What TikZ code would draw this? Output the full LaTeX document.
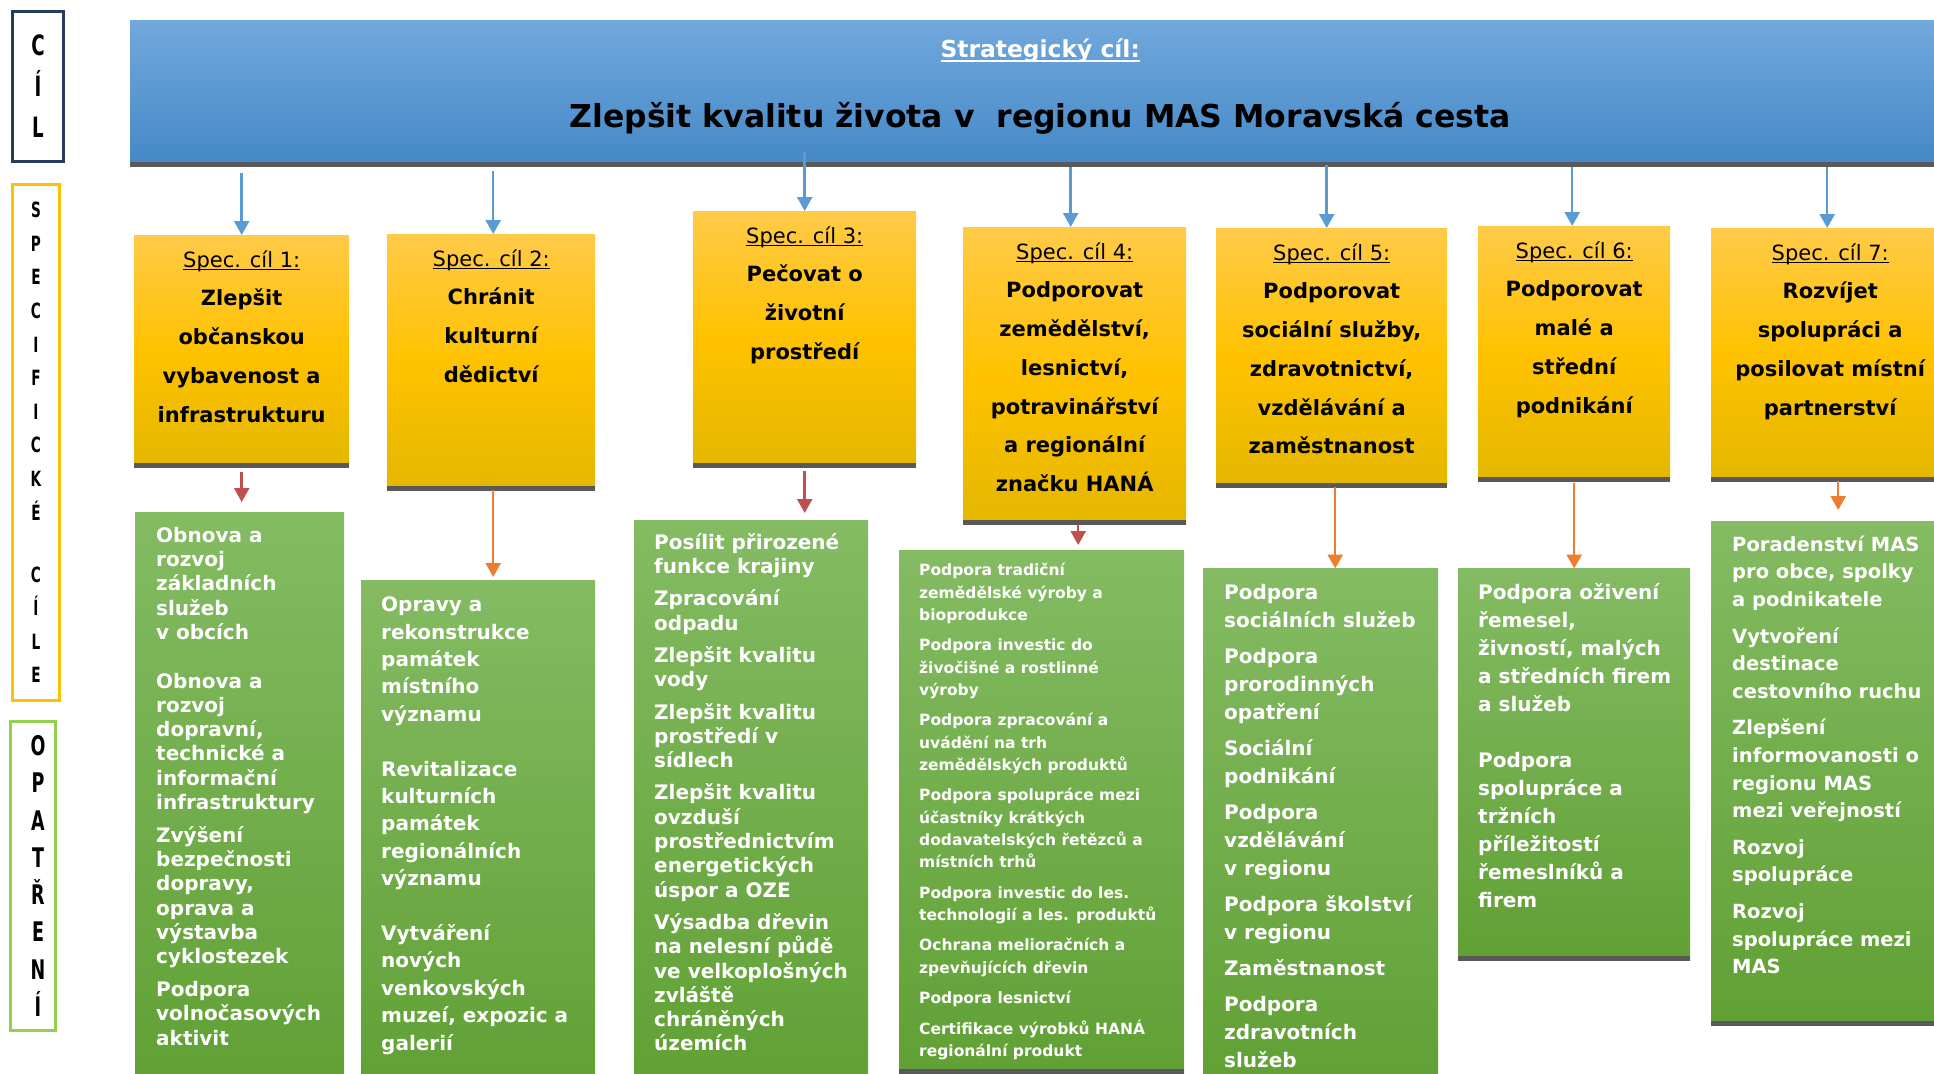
\documentclass[tikz,border=0pt]{standalone}
\usepackage{fontspec}
\setmainfont{DejaVu Sans}
\newfontfamily\tallfont{DejaVu Sans}[FakeStretch=0.65]
\usepackage{xcolor}
\usepackage{tikz}
\usetikzlibrary{arrows.meta, positioning}

\definecolor{bannertop}{RGB}{114,168,220}
\definecolor{bannerbot}{RGB}{68,136,199}
\definecolor{goldtop}{RGB}{255,202,72}
\definecolor{goldmid}{RGB}{255,194,0}
\definecolor{goldbot}{RGB}{228,183,0}
\definecolor{greentop}{RGB}{132,187,99}
\definecolor{greenbot}{RGB}{96,160,52}
\definecolor{shadowgrey}{RGB}{89,89,89}
\definecolor{arrowblue}{RGB}{91,155,213}
\definecolor{arrowred}{RGB}{192,80,77}
\definecolor{arroworange}{RGB}{237,125,49}
\definecolor{framenavy}{RGB}{38,61,92}
\definecolor{framegold}{RGB}{255,192,0}
\definecolor{framegreen}{RGB}{146,208,80}

\newcommand{\boxfont}[2]{\fontsize{#1}{#2}\selectfont\lineskiplimit=-20pt\relax}
\newcommand{\ulbar}[2][1.5pt]{\setbox0=\hbox{#2}\rlap{\rule[-2\dimexpr#1\relax]{\wd0}{#1}}\box0}

\tikzset{
  bottomline/.style={path picture={\draw[shadowgrey,line width=8pt]
      (path picture bounding box.south west) -- (path picture bounding box.south east);}},
  banner/.style={anchor=north west,inner sep=0pt,top color=bannertop,
      bottom color=bannerbot,bottomline},
  goalbox/.style={anchor=north west,inner sep=0pt,top color=goldtop,
      bottom color=goldbot,middle color=goldmid,bottomline},
  measbox/.style={anchor=north west,inner sep=0pt,top color=greentop,
      bottom color=greenbot,text=white,font=\bfseries,bottomline},
  labelframe/.style={line width=3pt,inner sep=0pt,align=center},
  bluearrow/.style={draw=arrowblue,line width=2.5pt,-{Triangle[width=15pt,length=14pt]}},
  redarrow/.style={draw=arrowred,line width=2.5pt,-{Triangle[width=15pt,length=14pt]}},
  orangearrow/.style={draw=arroworange,line width=2.5pt,-{Triangle[width=15pt,length=14pt]}}
}

\begin{document}
\begin{tikzpicture}[x=1pt,y=-1pt]
  \useasboundingbox (0,0) rectangle (1934,1073);
  \clip (0,0) rectangle (1934,1073);

  \node[labelframe,draw=framenavy,minimum width=51pt,minimum height=150pt,
        font=\tallfont\boxfont{28pt}{41pt}\bfseries] (lcil) at (38,86.5) {C\\Í\\L};
  \node[labelframe,draw=framegold,minimum width=47pt,minimum height=516pt,
        font=\tallfont\boxfont{21pt}{33.6pt}\bfseries] (lspec) at (36,442.5)
    {S\\P\\E\\C\\I\\F\\I\\C\\K\\É\\[28.4pt]C\\Í\\L\\E};
  \node[labelframe,draw=framegreen,minimum width=45pt,minimum height=309pt,
        font=\tallfont\boxfont{27pt}{37.3pt}\bfseries] (lopat) at (33,876)
    {\hspace*{10pt}O\\\hspace*{10pt}P\\\hspace*{10pt}A\\\hspace*{10pt}T\\
     \hspace*{10pt}Ř\\\hspace*{10pt}E\\\hspace*{10pt}N\\\hspace*{10pt}Í};

  \node[banner] (ban) at (130,20)
    {\parbox[c][146pt][t]{1820pt}{\centering\bfseries\color{white}%
      \boxfont{23.4pt}{30pt}\rule{0pt}{37pt}\ulbar[2.5pt]{Strategický cíl:}\\
      \color{black}\boxfont{31.5pt}{70pt}Zlepšit kvalitu života v\ \ regionu MAS Moravská cesta}};

  \node[goalbox] (s1) at (134,235)
    {\parbox[c][232pt][t]{215pt}{\centering\boxfont{21pt}{38.7pt}%
      \rule{0pt}{32pt}\ulbar{Spec. cíl 1:}\\ \bfseries Zlepšit\\ občanskou\\
      vybavenost a\\ infrastrukturu}};
  \node[goalbox] (s2) at (387,234)
    {\parbox[c][256pt][t]{208pt}{\centering\boxfont{21pt}{38.7pt}%
      \rule{0pt}{32pt}\ulbar{Spec. cíl 2:}\\ \bfseries Chránit\\ kulturní\\ dědictví}};
  \node[goalbox] (s3) at (693,211)
    {\parbox[c][256pt][t]{223pt}{\centering\boxfont{21pt}{38.7pt}%
      \rule{0pt}{32pt}\ulbar{Spec. cíl 3:}\\ \bfseries Pečovat o\\ životní\\ prostředí}};
  \node[goalbox] (s4) at (963,227)
    {\parbox[c][297pt][t]{223pt}{\centering\boxfont{21pt}{38.7pt}%
      \rule{0pt}{32pt}\ulbar{Spec. cíl 4:}\\ \bfseries Podporovat\\ zemědělství,\\
      lesnictví,\\ potravinářství\\ a regionální\\ značku HANÁ}};
  \node[goalbox] (s5) at (1216,228)
    {\parbox[c][259pt][t]{231pt}{\centering\boxfont{21pt}{38.7pt}%
      \rule{0pt}{32pt}\ulbar{Spec. cíl 5:}\\ \bfseries Podporovat\\ sociální služby,\\
      zdravotnictví,\\ vzdělávání a\\ zaměstnanost}};
  \node[goalbox] (s6) at (1478,226)
    {\parbox[c][255pt][t]{192pt}{\centering\boxfont{21pt}{38.7pt}%
      \rule{0pt}{32pt}\ulbar{Spec. cíl 6:}\\ \bfseries Podporovat\\ malé a\\ střední\\ podnikání}};
  \node[goalbox] (s7) at (1711,228)
    {\parbox[c][253pt][t]{238pt}{\centering\boxfont{21pt}{38.7pt}%
      \rule{0pt}{32pt}\ulbar{Spec. cíl 7:}\\ \bfseries Rozvíjet\\ spolupráci a\\
      posilovat místní\\ partnerství}};

  \node[measbox] (g1) at (135,512)
    {\parbox[c][578pt][t]{209pt}{\raggedright\leftskip=21pt\boxfont{20pt}{24.3pt}%
      \rule{0pt}{30pt}Obnova a\\ rozvoj\\ základních\\ služeb\\ v obcích\\[24.3pt]
      Obnova a\\ rozvoj\\ dopravní,\\ technické a\\ informační\\ infrastruktury\\[8.4pt]
      Zvýšení\\ bezpečnosti\\ dopravy,\\ oprava a\\ výstavba\\ cyklostezek\\[8.4pt]
      Podpora\\ volnočasových\\ aktivit}};
  \node[measbox] (g2) at (361,580)
    {\parbox[c][510pt][t]{234pt}{\raggedright\leftskip=20pt\boxfont{20pt}{27.4pt}%
      \rule{0pt}{31.5pt}Opravy a\\ rekonstrukce\\ památek\\ místního\\ významu\\[27.4pt]
      Revitalizace\\ kulturních\\ památek\\ regionálních\\ významu\\[27.4pt]
      Vytváření\\ nových\\ venkovských\\ muzeí, expozic a\\ galerií}};
  \node[measbox] (g3) at (634,520)
    {\parbox[c][570pt][t]{234pt}{\raggedright\leftskip=20pt\boxfont{20pt}{24.3pt}%
      \rule{0pt}{29pt}Posílit přirozené\\ funkce krajiny\\[8pt]
      Zpracování\\ odpadu\\[8pt]
      Zlepšit kvalitu\\ vody\\[8pt]
      Zlepšit kvalitu\\ prostředí v\\ sídlech\\[8pt]
      Zlepšit kvalitu\\ ovzduší\\ prostřednictvím\\ energetických\\ úspor a OZE\\[8pt]
      Výsadba dřevin\\ na nelesní půdě\\ ve velkoplošných\\ zvláště\\ chráněných\\ územích}};
  \node[measbox] (g4) at (899,550)
    {\parbox[c][523pt][t]{285pt}{\raggedright\leftskip=20pt\boxfont{15.5pt}{22.1pt}%
      \rule{0pt}{25.7pt}Podpora tradiční\\ zemědělské výroby a\\ bioprodukce\\[8.7pt]
      Podpora investic do\\ živočišné a rostlinné\\ výroby\\[8.7pt]
      Podpora zpracování a\\ uvádění na trh\\ zemědělských produktů\\[8.7pt]
      Podpora spolupráce mezi\\ účastníky krátkých\\ dodavatelských řetězců a\\
      místních trhů\\[8.7pt]
      Podpora investic do les.\\ technologií a les. produktů\\[8.7pt]
      Ochrana melioračních a\\ zpevňujících dřevin\\[8.7pt]
      Podpora lesnictví\\[8.7pt]
      Certifikace výrobků HANÁ\\ regionální produkt}};
  \node[measbox] (g5) at (1203,568.5)
    {\parbox[c][521.5pt][t]{235pt}{\raggedright\leftskip=21pt\boxfont{20pt}{28pt}%
      \rule{0pt}{30.3pt}Podpora\\ sociálních služeb\\[8pt]
      Podpora\\ prorodinných\\ opatření\\[8pt]
      Sociální\\ podnikání\\[8pt]
      Podpora\\ vzdělávání\\ v regionu\\[8pt]
      Podpora školství\\ v regionu\\[8pt]
      Zaměstnanost\\[8pt]
      Podpora\\ zdravotních\\ služeb}};
  \node[measbox] (g6) at (1458,568.5)
    {\parbox[c][391.5pt][t]{232pt}{\raggedright\leftskip=20pt\boxfont{20pt}{28pt}%
      \rule{0pt}{30.5pt}Podpora oživení\\ řemesel,\\ živností, malých\\
      a středních firem\\ a služeb\\[28pt]
      Podpora\\ spolupráce a\\ tržních\\ příležitostí\\ řemeslníků a\\ firem}};
  \node[measbox] (g7) at (1711,521)
    {\parbox[c][504pt][t]{239pt}{\raggedright\leftskip=21pt\boxfont{19.5pt}{27.6pt}%
      \rule{0pt}{30pt}Poradenství MAS\\ pro obce, spolky\\ a podnikatele\\[9pt]
      Vytvoření\\ destinace\\ cestovního ruchu\\[9pt]
      Zlepšení\\ informovanosti o\\ regionu MAS\\ mezi veřejností\\[9pt]
      Rozvoj\\ spolupráce\\[9pt]
      Rozvoj\\ spolupráce mezi\\ MAS}};

  \draw[bluearrow]([yshift=-7pt]ban.south -| s1.north)--(s1.north);
  \draw[bluearrow]([yshift=-5pt,xshift=2pt]ban.south -| s2.north)--([xshift=2pt]s2.north);
  \draw[bluearrow]([yshift=14pt]ban.south -| s3.north)--(s3.north);
  \draw[bluearrow]([yshift=-1pt,xshift=-4pt]ban.south -| s4.north)--([xshift=-4pt]s4.north);
  \draw[bluearrow]([yshift=1pt,xshift=-5pt]ban.south -| s5.north)--([xshift=-5pt]s5.north);
  \draw[bluearrow]([yshift=-1pt,xshift=-2pt]ban.south -| s6.north)--([xshift=-2pt]s6.north);
  \draw[bluearrow]([yshift=-1pt,xshift=-3pt]ban.south -| s7.north)--([xshift=-3pt]s7.north);

  \draw[redarrow,shorten <=5pt,shorten >=10pt](s1.south)--(s1.south |- g1.north);
  \draw[orangearrow,shorten >=3pt]([xshift=2pt]s2.south)--([xshift=2pt]s2.south |- g2.north);
  \draw[redarrow,shorten <=4pt,shorten >=7pt](s3.south)--(s3.south |- g3.north);
  \draw[redarrow,shorten >=5pt]([xshift=3.5pt]s4.south)--([xshift=3.5pt]s4.south |- g4.north);
  \draw[orangearrow]([xshift=3.5pt]s5.south)--([xshift=3.5pt]s5.south |- g5.north);
  \draw[orangearrow,shorten <=2pt](s6.south)--(s6.south |- g6.north);
  \draw[orangearrow,shorten >=11pt]([xshift=8pt]s7.south)--([xshift=8pt]s7.south |- g7.north);
\end{tikzpicture}
\end{document}
